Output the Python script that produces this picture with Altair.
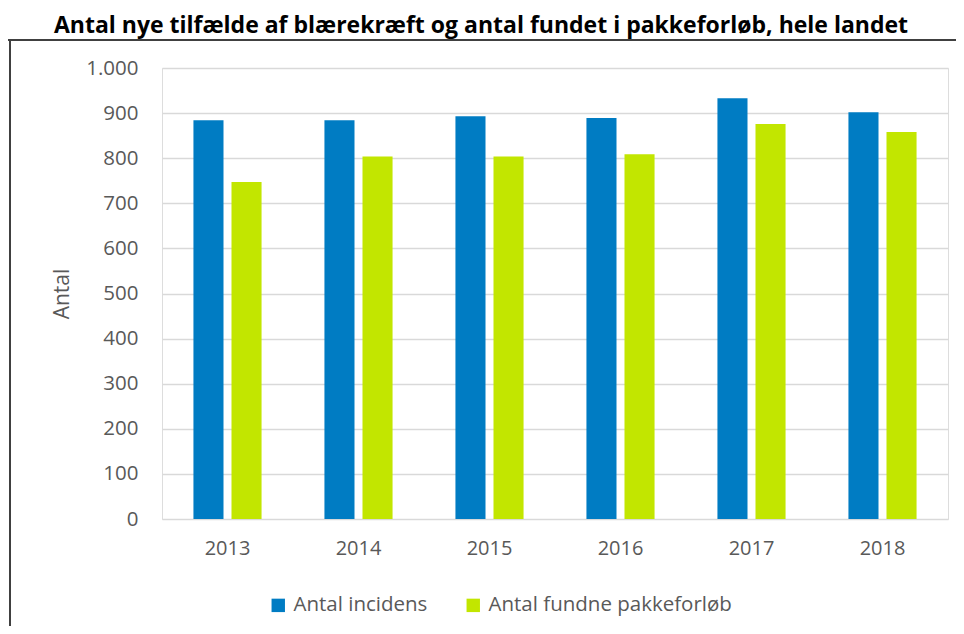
import altair as alt
import pandas as pd

years = ["2013", "2014", "2015", "2016", "2017", "2018"]
incidens = [884, 884, 893, 889, 933, 902]
pakkeforloeb = [747, 804, 804, 809, 876, 858]
series_names = ["Antal incidens", "Antal fundne pakkeforløb"]
colors = ["#007CC3", "#C2E600"]

rows = []
for i, y in enumerate(years):
    rows.append({"year": y, "serie": series_names[0], "value": incidens[i]})
    rows.append({"year": y, "serie": series_names[1], "value": pakkeforloeb[i]})
df = pd.DataFrame(rows)

FONT = "Open Sans"
TXT = "#595959"

bars = alt.Chart(df).mark_bar().encode(
    x=alt.X("year:N", sort=years,
            scale=alt.Scale(paddingInner=0.48, paddingOuter=0.24),
            axis=alt.Axis(title=None, domain=False, ticks=False, labelPadding=19,
                          labelAngle=0,
                          labelFontSize=20, labelColor=TXT, labelFont=FONT, grid=False)),
    xOffset=alt.XOffset("serie:N", sort=series_names,
                        scale=alt.Scale(paddingInner=0.21, paddingOuter=0)),
    y=alt.Y("value:Q", scale=alt.Scale(domain=[0, 1000]),
            axis=alt.Axis(title="Antal", values=list(range(0, 1001, 100)),
                          labelExpr="replace(format(datum.value, ','), ',', '.')",
                          domain=False, ticks=False, labelPadding=24,
                          labelFontSize=20.5, labelColor=TXT, labelFont=FONT,
                          titleFontSize=21, titleColor=TXT, titleFont=FONT,
                          titleFontWeight="normal", titlePadding=13,
                          gridColor="#D9D9D9", gridWidth=1.5)),
    color=alt.Color("serie:N", sort=series_names,
                    scale=alt.Scale(domain=series_names, range=colors),
                    legend=alt.Legend(title=None, orient="none", direction="horizontal",
                                      legendX=106, legendY=527,
                                      symbolType="square", symbolSize=180,
                                      symbolStrokeWidth=0, columnPadding=35,
                                      labelOffset=5,
                                      labelFontSize=20.5, labelColor=TXT, labelFont=FONT,
                                      labelLimit=400)),
)

frame_data = alt.Data(values=[{"a": 1}])
top_line = alt.Chart(frame_data).mark_rule(color="#404040", strokeWidth=2, clip=False).encode(
    x=alt.value(-157), x2=alt.value(810), y=alt.value(-28)
)
left_line = alt.Chart(frame_data).mark_rule(color="#404040", strokeWidth=2, clip=False).encode(
    x=alt.value(-152), y=alt.value(-28), y2=alt.value(580)
)

chart = alt.layer(bars, top_line, left_line).properties(
    width=786, height=451,
    autosize=alt.AutoSizeParams(type="none"),
    padding={"left": 154, "top": 60, "right": 8, "bottom": 107},
    title=alt.TitleParams(
        "Antal nye tilfælde af blærekræft og antal fundet i pakkeforløb, hele landet",
        fontSize=23, font=FONT, fontWeight="bold", color="#000000",
        anchor="middle", dx=-74, offset=1),
).configure_view(stroke=None).configure(background="white")

chart.save("out.html", embed_options={"renderer": "svg", "actions": False})
